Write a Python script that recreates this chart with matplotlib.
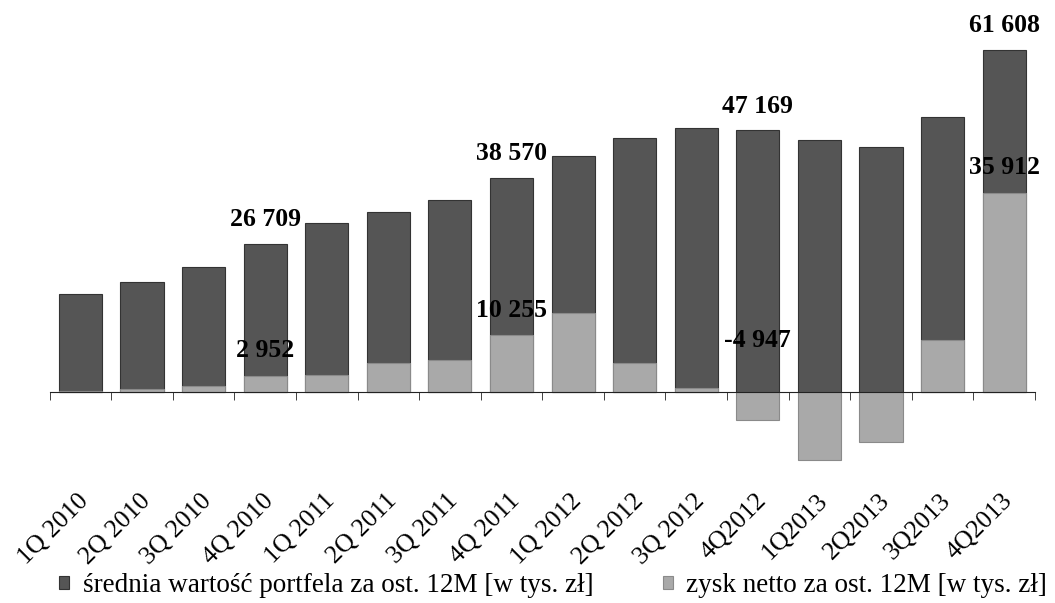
import matplotlib
matplotlib.use('Agg')
import matplotlib.pyplot as plt
import matplotlib.transforms as mtransforms
import numpy as np

quarters = ['1Q 2010', '2Q 2010', '3Q 2010', '4Q 2010', '1Q 2011', '2Q 2011', '3Q 2011', '4Q 2011',
            '1Q 2012', '2Q 2012', '3Q 2012', '4Q2012', '1Q2013', '2Q2013', '3Q2013', '4Q2013']
portfolio = [17600, 19800, 22500, 26709, 30400, 32400, 34600, 38570,
             42600, 45700, 47500, 47169, 45400, 44100, 49500, 61608]
profit = [200, 540, 1100, 2952, 3100, 5200, 5800, 10255,
          14200, 5200, 700, -4947, -12200, -9000, 9400, 35912]
portfolio_labels = {3: '26 709', 7: '38 570', 11: '47 169', 15: '61 608'}
profit_labels = {3: '2 952', 7: '10 255', 11: '-4 947', 15: '35 912'}

plt.rcParams['font.family'] = ['Liberation Serif', 'DejaVu Serif']

fig = plt.figure(figsize=(10.55, 6.03), dpi=100)
ax = fig.add_axes([0.047, 0.2206, 0.934, 0.7628])

x = np.arange(len(quarters))
w = 0.70
b1 = ax.bar(x, portfolio, w, color='#555555', edgecolor='#333333', linewidth=0.8,
            label='średnia wartość portfela za ost. 12M [w tys. zł]', zorder=2)
b2 = ax.bar(x, profit, w, color='#a9a9a9', edgecolor='#8a8a8a', linewidth=0.8,
            label='zysk netto za ost. 12M [w tys. zł]', zorder=3)

ax.set_xlim(-0.5, len(quarters) - 0.5)
ax.set_ylim(-14000, 68800)

for s in ['top', 'right', 'left']:
    ax.spines[s].set_visible(False)
ax.spines['bottom'].set_position(('data', 0))
ax.spines['bottom'].set_zorder(4)
ax.spines['bottom'].set_color('#222222')
ax.set_yticks([])

ax.set_xticks(x)
ax.set_xticks(np.arange(-0.5, len(quarters)), minor=True)
ax.tick_params(axis='x', which='major', length=0, pad=76, labelsize=18.5)
ax.tick_params(axis='x', which='minor', length=6, direction='out', color='#222222')
ax.set_xticklabels(quarters, rotation=45, ha='right', rotation_mode='anchor', va='center')
shift = mtransforms.ScaledTranslation(5 / 100, 0, fig.dpi_scale_trans)
for lbl in ax.get_xticklabels():
    lbl.set_transform(lbl.get_transform() + shift)

for i, txt in portfolio_labels.items():
    ax.annotate(txt, (x[i], portfolio[i]), xytext=(0, 24), textcoords='offset pixels',
                ha='center', va='center', fontsize=18.5, fontweight='bold', zorder=5)
for i, txt in profit_labels.items():
    if profit[i] >= 0:
        ax.annotate(txt, (x[i], profit[i]), xytext=(0, 25), textcoords='offset pixels',
                    ha='center', va='center', fontsize=18.5, fontweight='bold', zorder=5)
    else:
        ax.annotate(txt, (x[i], 0), xytext=(0, 52), textcoords='offset pixels',
                    ha='center', va='center', fontsize=18.5, fontweight='bold', zorder=5)

fig.legend(handles=[b1, b2], loc='center left', bbox_to_anchor=(59 / 1055, 1 - 586 / 603), ncol=2,
           frameon=False, fontsize=19.5, handlelength=0.38, handleheight=0.38,
           handletextpad=0.5, columnspacing=2.55, borderaxespad=0, borderpad=0)

fig.savefig('out.png', dpi=100)
